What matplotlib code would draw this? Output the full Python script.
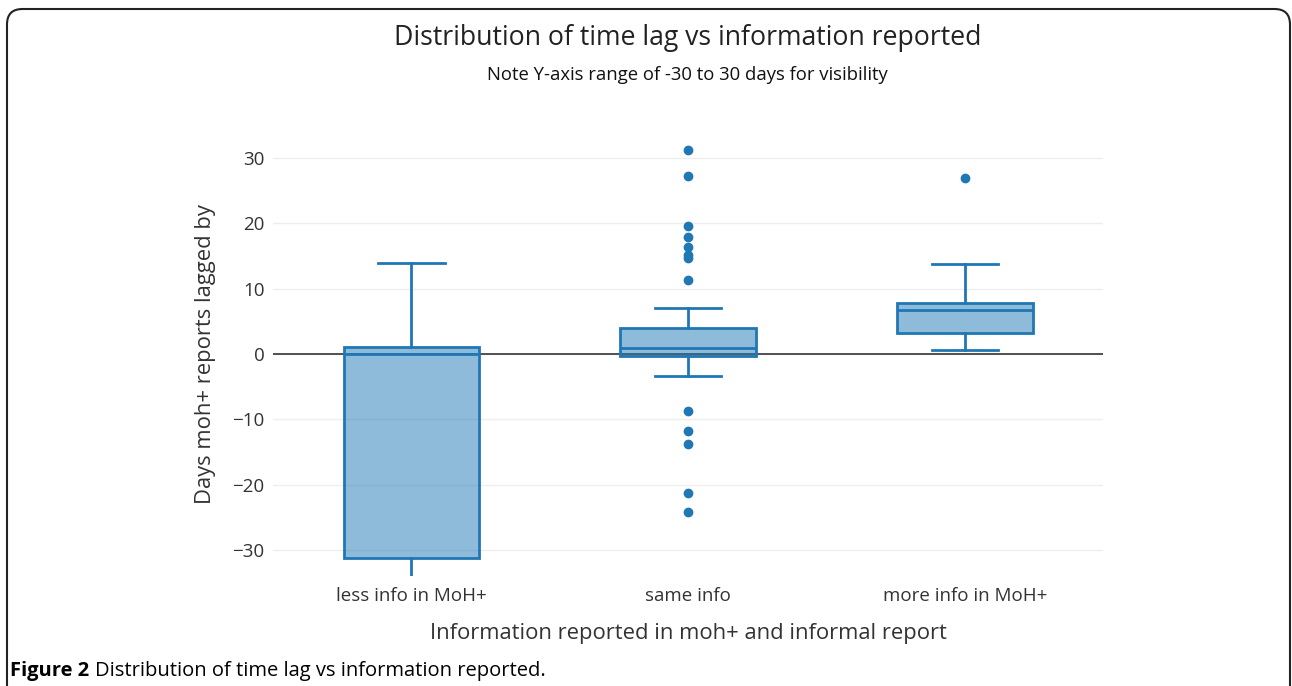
import matplotlib
matplotlib.use('Agg')
from matplotlib import pyplot as plt
from matplotlib.patches import FancyBboxPatch

plt.rcParams['font.family'] = ['Open Sans', 'DejaVu Sans']

categories = ['less info in MoH+', 'same info', 'more info in MoH+']
whisker_low = [-40.0, -3.4, 0.6]
q1 = [-31.2, -0.3, 3.2]
median = [0.0, 0.9, 6.7]
q3 = [1.0, 4.0, 7.8]
whisker_high = [13.9, 7.0, 13.8]
outliers = [
    [],
    [31.3, 27.3, 19.6, 17.9, 16.4, 15.1, 14.7, 11.3, -8.8, -11.8, -13.8, -21.3, -24.2],
    [27.0],
]

color = '#1f77b4'

fig = plt.figure(figsize=(12.92, 6.86), dpi=100)
ax = fig.add_axes([273 / 1292, 0.1603, 0.6425, 0.6473])

stats = []
for i in range(len(categories)):
    stats.append({'label': categories[i], 'whislo': whisker_low[i], 'q1': q1[i],
                  'med': median[i], 'q3': q3[i], 'whishi': whisker_high[i],
                  'fliers': outliers[i]})

ax.bxp(stats, positions=range(len(categories)), widths=0.49, patch_artist=True,
       capwidths=0.24,
       boxprops=dict(facecolor=(0.12, 0.47, 0.71, 0.5), edgecolor=color, linewidth=2),
       medianprops=dict(color=color, linewidth=2),
       whiskerprops=dict(color=color, linewidth=2),
       capprops=dict(color=color, linewidth=2),
       flierprops=dict(marker='o', markerfacecolor=color, markeredgecolor=color,
                       markersize=6, linestyle='none'))

ax.set_xlim(-0.5, 2.5)
ax.set_ylim(-34, 34)
ax.set_yticks([-30, -20, -10, 0, 10, 20, 30])
ax.set_yticklabels(['\u221230', '\u221220', '\u221210', '0', '10', '20', '30'])
ax.grid(axis='y', color='#eeeeee', linewidth=1)
ax.set_axisbelow(True)
ax.axhline(0, color='#444444', linewidth=1.3, zorder=1)
for s in ax.spines.values():
    s.set_visible(False)
ax.tick_params(length=0, labelsize=13.5, colors='#333333', pad=6)
ax.tick_params(axis='x', pad=8)

ax.set_xlabel('Information reported in moh+ and informal report', fontsize=15.8,
              color='#333333', labelpad=12.5)
ax.set_ylabel('Days moh+ reports lagged by', fontsize=15.8, color='#333333', labelpad=12)

fig.text(0.532, 0.944, 'Distribution of time lag vs information reported', ha='center',
         va='center', fontsize=19.2, color='#222222')
fig.text(0.532, 0.891, 'Note Y-axis range of -30 to 30 days for visibility', ha='center',
         va='center', fontsize=13.3, color='#111111')

cap1 = fig.text(0.008, 0.022, 'Figure 2', fontsize=14.5, fontweight='bold', va='center')
fig.canvas.draw()
bb = cap1.get_window_extent()
fig.text(bb.x1 / fig.bbox.width + 0.004, 0.022,
         'Distribution of time lag vs information reported.', fontsize=14.5, va='center')

border = FancyBboxPatch((7 / 1292, -0.2), 1283 / 1292, 1 - 9 / 686 + 0.2,
                        boxstyle='round,pad=0,rounding_size=0.012',
                        transform=fig.transFigure, fill=False, edgecolor='#222222',
                        linewidth=1.5, mutation_aspect=1292 / 686)
fig.patches.append(border)

fig.savefig('out.png', dpi=100)
